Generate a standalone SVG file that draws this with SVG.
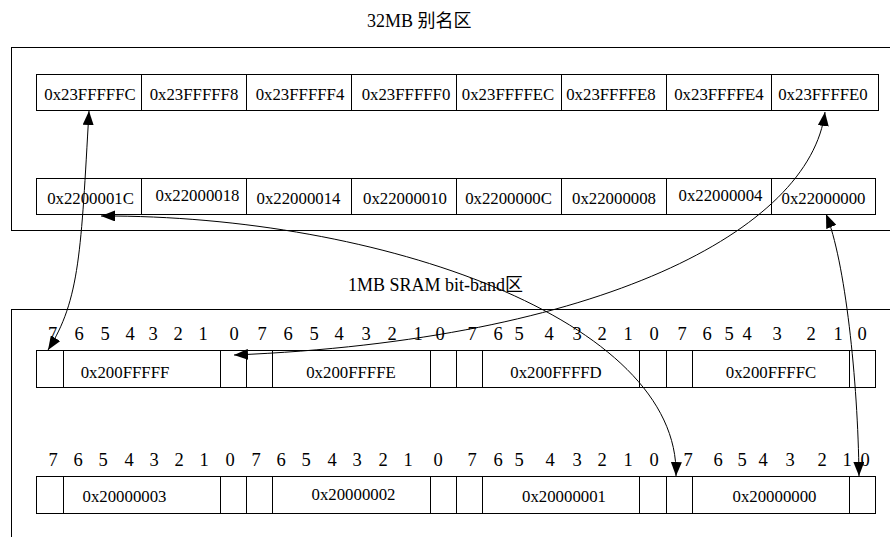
<svg xmlns="http://www.w3.org/2000/svg" width="890" height="537" viewBox="0 0 890 537">
<style>
.bg{fill:#fff}
.frame{fill:none;stroke:#000;stroke-width:1}
.cell{fill:#fff;stroke:#000;stroke-width:1}
.t{font-family:"Liberation Serif","Noto Sans CJK SC",serif;font-size:16.8px;fill:#000;text-anchor:middle}
.b{font-family:"Liberation Serif",serif;font-size:18.5px;fill:#000;text-anchor:middle}
.title{font-family:"Liberation Serif","Noto Sans CJK SC",serif;font-size:18px;fill:#000}
.conn{fill:none;stroke:#000;stroke-width:1;marker-start:url(#ah);marker-end:url(#ah)}
</style>
<defs>
<marker id="ah" markerWidth="14" markerHeight="11" refX="14" refY="5.5" orient="auto-start-reverse" markerUnits="userSpaceOnUse"><path d="M0,0 L14,5.5 L0,11 z" fill="#000"/></marker>
</defs>
<rect class="bg" x="0" y="0" width="890" height="537"/>

<g id="alias-region">
<text class="title" x="367" y="27">32MB 别名区</text>
<rect class="frame" x="11.5" y="47.5" width="890" height="183"/>
</g>

<g id="alias-row-high">
<g id="a-23FFFFFC"><rect class="cell" x="36.5" y="74.5" width="105" height="36"/><text class="t" x="90" y="100">0x23FFFFFC</text></g>
<g id="a-23FFFFF8"><rect class="cell" x="141.5" y="74.5" width="105" height="36"/><text class="t" x="194" y="100">0x23FFFFF8</text></g>
<g id="a-23FFFFF4"><rect class="cell" x="246.5" y="74.5" width="105" height="36"/><text class="t" x="300" y="100">0x23FFFFF4</text></g>
<g id="a-23FFFFF0"><rect class="cell" x="351.5" y="74.5" width="105" height="36"/><text class="t" x="406" y="100">0x23FFFFF0</text></g>
<g id="a-23FFFFEC"><rect class="cell" x="456.5" y="74.5" width="105" height="36"/><text class="t" x="508" y="100">0x23FFFFEC</text></g>
<g id="a-23FFFFE8"><rect class="cell" x="561.5" y="74.5" width="105" height="36"/><text class="t" x="611" y="100">0x23FFFFE8</text></g>
<g id="a-23FFFFE4"><rect class="cell" x="666.5" y="74.5" width="105" height="36"/><text class="t" x="719" y="100">0x23FFFFE4</text></g>
<g id="a-23FFFFE0"><rect class="cell" x="771.5" y="74.5" width="107" height="36"/><text class="t" x="823" y="100">0x23FFFFE0</text></g>
</g>

<g id="alias-row-low">
<g id="a-2200001C"><rect class="cell" x="36.5" y="178.5" width="105" height="36"/><text class="t" x="90.5" y="204">0x2200001C</text></g>
<g id="a-22000018"><rect class="cell" x="141.5" y="178.5" width="105" height="36"/><text class="t" x="197.5" y="201">0x22000018</text></g>
<g id="a-22000014"><rect class="cell" x="246.5" y="178.5" width="105" height="36"/><text class="t" x="298.5" y="204">0x22000014</text></g>
<g id="a-22000010"><rect class="cell" x="351.5" y="178.5" width="105" height="36"/><text class="t" x="405" y="204">0x22000010</text></g>
<g id="a-2200000C"><rect class="cell" x="456.5" y="178.5" width="105" height="36"/><text class="t" x="508.5" y="204">0x2200000C</text></g>
<g id="a-22000008"><rect class="cell" x="561.5" y="178.5" width="105" height="36"/><text class="t" x="614" y="204">0x22000008</text></g>
<g id="a-22000004"><rect class="cell" x="666.5" y="178.5" width="105" height="36"/><text class="t" x="720.5" y="201">0x22000004</text></g>
<g id="a-22000000"><rect class="cell" x="771.5" y="178.5" width="104" height="36"/><text class="t" x="823.5" y="204">0x22000000</text></g>
</g>

<g id="bitband-region">
<text class="title" x="348" y="291">1MB SRAM bit-band区</text>
<rect class="frame" x="11.5" y="309.5" width="890" height="250"/>
</g>

<g id="bit-labels-1">
<text class="b" y="340"><tspan x="52.5">7</tspan><tspan x="79">6</tspan><tspan x="105">5</tspan><tspan x="130">4</tspan><tspan x="153">3</tspan><tspan x="178">2</tspan><tspan x="203">1</tspan><tspan x="234">0</tspan><tspan x="262">7</tspan><tspan x="288">6</tspan><tspan x="314">5</tspan><tspan x="339">4</tspan><tspan x="366">3</tspan><tspan x="392">2</tspan><tspan x="418">1</tspan><tspan x="440">0</tspan><tspan x="472">7</tspan><tspan x="498">6</tspan><tspan x="519">5</tspan><tspan x="549">4</tspan><tspan x="577">3</tspan><tspan x="602">2</tspan><tspan x="628">1</tspan><tspan x="654">0</tspan><tspan x="682">7</tspan><tspan x="707">6</tspan><tspan x="729">5</tspan><tspan x="747">4</tspan><tspan x="777">3</tspan><tspan x="811">2</tspan><tspan x="838">1</tspan><tspan x="862">0</tspan></text>
</g>

<g id="byte-200FFFFF"><rect class="cell" x="36.5" y="350.5" width="27" height="37"/><rect class="cell" x="63.5" y="350.5" width="157" height="37"/><rect class="cell" x="220.5" y="350.5" width="26" height="37"/><text class="t" x="125" y="378">0x200FFFFF</text></g>
<g id="byte-200FFFFE"><rect class="cell" x="246.5" y="350.5" width="26" height="37"/><rect class="cell" x="272.5" y="350.5" width="158" height="37"/><rect class="cell" x="430.5" y="350.5" width="26" height="37"/><text class="t" x="351" y="378">0x200FFFFE</text></g>
<g id="byte-200FFFFD"><rect class="cell" x="456.5" y="350.5" width="26" height="37"/><rect class="cell" x="482.5" y="350.5" width="157" height="37"/><rect class="cell" x="639.5" y="350.5" width="27" height="37"/><text class="t" x="556" y="378">0x200FFFFD</text></g>
<g id="byte-200FFFFC"><rect class="cell" x="666.5" y="350.5" width="26" height="37"/><rect class="cell" x="692.5" y="350.5" width="157" height="37"/><rect class="cell" x="849.5" y="350.5" width="26" height="37"/><text class="t" x="771" y="378">0x200FFFFC</text></g>

<g id="bit-labels-2">
<text class="b" y="466"><tspan x="53">7</tspan><tspan x="78">6</tspan><tspan x="103">5</tspan><tspan x="129">4</tspan><tspan x="154">3</tspan><tspan x="179">2</tspan><tspan x="204">1</tspan><tspan x="230">0</tspan><tspan x="256">7</tspan><tspan x="281">6</tspan><tspan x="306">5</tspan><tspan x="332">4</tspan><tspan x="357">3</tspan><tspan x="383">2</tspan><tspan x="408">1</tspan><tspan x="438">0</tspan><tspan x="472">7</tspan><tspan x="498">6</tspan><tspan x="519">5</tspan><tspan x="550">4</tspan><tspan x="577">3</tspan><tspan x="602">2</tspan><tspan x="628">1</tspan><tspan x="654">0</tspan><tspan x="688">7</tspan><tspan x="718">6</tspan><tspan x="742">5</tspan><tspan x="763">4</tspan><tspan x="790">3</tspan><tspan x="822">2</tspan><tspan x="847">1</tspan><tspan x="865">0</tspan></text>
</g>

<g id="byte-20000003"><rect class="cell" x="36.5" y="476.5" width="27" height="37"/><rect class="cell" x="63.5" y="476.5" width="157" height="37"/><rect class="cell" x="220.5" y="476.5" width="26" height="37"/><text class="t" x="124.5" y="502">0x20000003</text></g>
<g id="byte-20000002"><rect class="cell" x="246.5" y="476.5" width="26" height="37"/><rect class="cell" x="272.5" y="476.5" width="158" height="37"/><rect class="cell" x="430.5" y="476.5" width="26" height="37"/><text class="t" x="353.5" y="500">0x20000002</text></g>
<g id="byte-20000001"><rect class="cell" x="456.5" y="476.5" width="26" height="37"/><rect class="cell" x="482.5" y="476.5" width="157" height="37"/><rect class="cell" x="639.5" y="476.5" width="27" height="37"/><text class="t" x="564" y="502">0x20000001</text></g>
<g id="byte-20000000"><rect class="cell" x="666.5" y="476.5" width="26" height="37"/><rect class="cell" x="692.5" y="476.5" width="157" height="37"/><rect class="cell" x="849.5" y="476.5" width="26" height="37"/><text class="t" x="774.5" y="502">0x20000000</text></g>

<g id="connectors">
<path class="conn" d="M89,111 C81,250 80,300 48,350"/>
<path class="conn" d="M825,112 C810,230 600,340 234,355"/>
<path class="conn" d="M101,216 C380,215 680,320 676,476"/>
<path class="conn" d="M826,214 C845,260 858,380 859,476"/>
</g>
</svg>
